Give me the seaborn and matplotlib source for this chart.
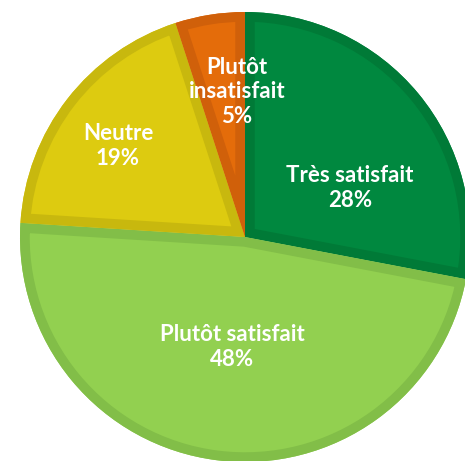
import matplotlib
matplotlib.use('Agg')
import matplotlib.pyplot as plt
import matplotlib.patches as mpatches
import seaborn as sns

categories = ['Très satisfait', 'Plutôt satisfait', 'Neutre', 'Plutôt insatisfait']
shares = [28, 48, 19, 5]
label_text = ['Très satisfait\n28%', 'Plutôt satisfait\n48%', 'Neutre\n19%', 'Plutôt\ninsatisfait\n5%']

fill_colors = ['#00883F', '#92D050', '#DDCB10', '#E46C0A']
edge_colors = ['#007A37', '#82BE48', '#C8B80E', '#D0600A']

sns.set_theme(style='white')
plt.rcParams['font.family'] = ['Lato', 'DejaVu Sans']

W, H = 465, 461
fig = plt.figure(figsize=(W / 100, H / 100), dpi=100)
ax = fig.add_axes([0, 0, 1, 1])

center = (245, 224)
radius = 225
wedges, _ = ax.pie(shares, colors=sns.color_palette(fill_colors), startangle=90,
                   counterclock=False, center=center, radius=radius,
                   wedgeprops=dict(linewidth=0))

# inner border: a stroked copy of each wedge clipped to the filled wedge
for w, ec in zip(wedges, edge_colors):
    border = mpatches.Wedge(w.center, w.r, w.theta1, w.theta2,
                            facecolor='none', edgecolor=ec, linewidth=14,
                            joinstyle='miter')
    ax.add_patch(border)
    border.set_clip_path(w)

label_pos = [(350, 188), (232, 347), (118, 146), (237, 92)]
for txt, (x, y) in zip(label_text, label_pos):
    ax.text(x, H - y, txt, ha='center', va='center', color='white',
            fontsize=16, fontweight='bold', linespacing=1.2)

ax.set_xlim(0, W)
ax.set_ylim(0, H)
ax.set_aspect('equal')
ax.axis('off')

fig.savefig('out.png', dpi=100)
